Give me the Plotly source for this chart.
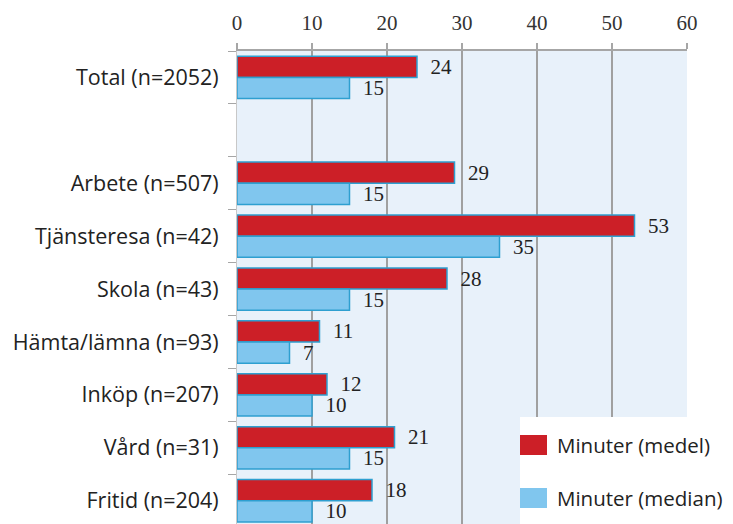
import plotly.graph_objects as go

# Data
categories = [
    "Total (n=2052)", " ", "Arbete (n=507)", "Tjänsteresa (n=42)", "Skola (n=43)",
    "Hämta/lämna (n=93)", "Inköp (n=207)", "Vård (n=31)", "Fritid (n=204)",
]
medel = [24, None, 29, 53, 28, 11, 12, 21, 18]
median = [15, None, 15, 35, 15, 7, 10, 15, 10]
x_ticks = [0, 10, 20, 30, 40, 50, 60]

red = '#cc1f27'
blue = '#80c6ee'
edge = '#2e9fd0'
serif = "Liberation Serif"
sans = "Open Sans"


def px(x):
    # window pixel -> paper x (plot spans 237..687 in the window)
    return (x - 237) / 450


def py(y):
    # window pixel -> paper y (plot spans 51..524 in the window)
    return (524 - y) / 473


fig = go.Figure()
for name, vals, color in [("Minuter (medel)", medel, red), ("Minuter (median)", median, blue)]:
    fig.add_trace(go.Bar(
        y=categories, x=vals, name=name, orientation='h',
        marker=dict(color=color, line=dict(color=edge, width=1.5)),
        text=vals, texttemplate='\u00a0\u00a0%{x}', textposition='outside',
        textfont=dict(family=serif, size=21, color='#222'),
        constraintext='none',
        cliponaxis=False,
    ))

# the page adds an 8px body margin, so the figure is 8px smaller than the window
fig.update_layout(
    width=725, height=516,
    margin=dict(l=229, r=46, t=43, b=0),
    barmode='group', bargap=0.2, bargroupgap=0,
    plot_bgcolor='#e8f1fa', paper_bgcolor='white',
    showlegend=False,
    xaxis=dict(
        side='top', range=[0, 60], tickvals=x_ticks,
        showgrid=True, gridcolor='#a0a0a0', gridwidth=1.5,
        showline=True, linecolor='#a6a6a6', linewidth=2,
        ticks='outside', ticklen=6, tickcolor='#a6a6a6', tickwidth=1.5,
        tickfont=dict(family=serif, size=21, color='#333'),
        ticklabelstandoff=5,
        zeroline=False,
    ),
    yaxis=dict(
        type='category', range=[8.44, -0.5],  # reversed; last row is cut at the bottom
        showline=True, linecolor='#c8c8c8', linewidth=1,
        ticks='outside', ticklen=8, tickcolor='#a6a6a6', tickson='boundaries',
        tickfont=dict(family=sans, size=21.5, color='#222'),
        ticklabelstandoff=13,
    ),
)

# legend box drawn by hand so the swatches match the reference size
fig.add_shape(type='rect', xref='paper', yref='paper', x0=px(520), x1=px(740),
              y0=py(530), y1=py(417), fillcolor='white', line=dict(width=0),
              layer='above')
for i, (name, color) in enumerate([("Minuter (medel)", red), ("Minuter (median)", blue)]):
    yc = 445 + i * 53
    fig.add_shape(type='rect', xref='paper', yref='paper',
                  x0=px(520), x1=px(547), y0=py(yc + 10), y1=py(yc - 10),
                  fillcolor=color, line=dict(width=0), layer='above')
    fig.add_annotation(text=name, xref='paper', yref='paper',
                       x=px(555), y=py(yc),
                       xanchor='left', yanchor='middle', showarrow=False,
                       font=dict(family=sans, size=20.5, color='#222'))

fig.write_html("out.html")
